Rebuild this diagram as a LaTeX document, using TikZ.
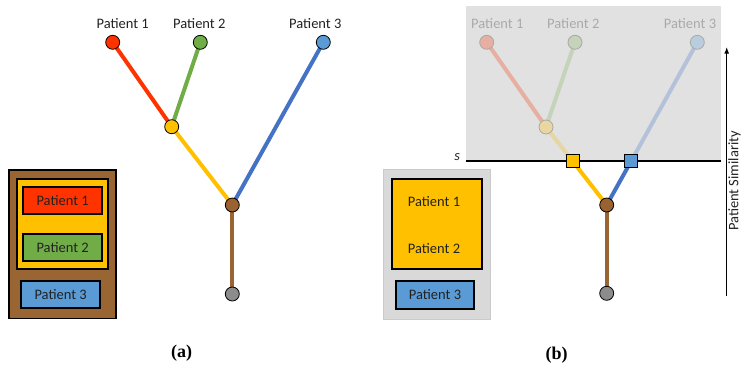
\documentclass[tikz,border=0pt]{standalone}
\usepackage{fontspec}
\setmainfont{Carlito}
\newfontfamily\capfont{Liberation Serif}
\usetikzlibrary{calc,arrows.meta}
\pgfdeclarelayer{bg}\pgfdeclarelayer{lines}
\pgfsetlayers{bg,lines,main}
\definecolor{cred}{HTML}{FF3300}
\definecolor{cgreen}{HTML}{70AD47}
\definecolor{cbluen}{HTML}{5B9BD5}
\definecolor{cbluel}{HTML}{4472C4}
\definecolor{cyel}{HTML}{FFC000}
\definecolor{cbrown}{HTML}{996633}
\definecolor{cbrownn}{HTML}{9A6230}
\definecolor{cgrayn}{HTML}{8C8C8C}
\definecolor{fred}{HTML}{E6AFA2}
\definecolor{fgreen}{HTML}{C4D3BA}
\definecolor{fbluel}{HTML}{B4C2D9}
\definecolor{fbluen}{HTML}{B9CDDF}
\definecolor{fyel}{HTML}{E6D6A4}
\definecolor{fyeln}{HTML}{E8D7A0}
\definecolor{fborder}{HTML}{A8A8A8}
\definecolor{ftext}{HTML}{AAAAAA}
\definecolor{txt}{HTML}{222222}
\definecolor{bgtop}{HTML}{E1E1E1}
\definecolor{bgbox}{HTML}{D9D9D9}
\definecolor{bgborder}{HTML}{CACACA}
\begin{document}
\begin{tikzpicture}[x=1pt,y=-1pt,
  dot/.style={circle, draw=black, line width=0.8pt, minimum size=14pt, inner sep=0pt},
  fdot/.style={dot, draw=fborder},
  branch/.style={line width=4pt},
  lbl/.style={font=\fontsize{14.5}{16}\selectfont, text=txt, inner sep=0pt},
  flbl/.style={lbl, text=ftext},
  sqn/.style={rectangle, draw=black, line width=0.8pt, minimum size=13pt, inner sep=0pt},
  pbox/.style={draw=black, line width=1.8pt, inner sep=0pt, font=\fontsize{14.5}{16}\selectfont, text=txt},
  capt/.style={font=\capfont\bfseries\fontsize{18}{20}\selectfont, inner sep=0pt}]
\useasboundingbox (0,0) rectangle (741,364);

% ---------------- (a) ----------------
\node[dot, fill=cred]   (a1) at (112.7,42.3) {};
\node[dot, fill=cgreen] (a2) at (200.3,42.3) {};
\node[dot, fill=cbluen] (a3) at (323.3,42.3) {};
\node[dot, fill=cyel]   (ay) at (171.7,126.7) {};
\node[dot, fill=cbrownn](ab) at (232.3,205) {};
\node[dot, fill=cgrayn] (ag) at (232.3,294) {};
\node[lbl] (la1) at (122.7,23.3) {Patient 1};
\node[lbl] (la2) at (199.3,23.3) {Patient 2};
\node[lbl] (la3) at (315.3,23.3) {Patient 3};
\begin{pgfonlayer}{lines}
\draw[branch, cred]   (a1.center) -- (ay.center);
\draw[branch, cgreen] (a2.center) -- (ay.center);
\draw[branch, cyel]   (ay.center) -- (ab.center);
\draw[branch, cbluel] (a3.center) -- (ab.center);
\draw[branch, cbrown] (ab.center) -- (ag.center);
\end{pgfonlayer}

\node[draw=black, line width=1.5pt, fill=cbrown, minimum width=107pt, minimum height=148.3pt, inner sep=0pt] (ao) at (62.5,244.2) {};
\node[draw=black, line width=1.8pt, fill=cyel, minimum width=91pt, minimum height=89.7pt, inner sep=0pt] (ayb) at (62.8,223.85) {};
\node[pbox, fill=cred, minimum width=78.7pt, minimum height=27.3pt] (ar) at (62.65,200.65) {Patient 1};
\node[pbox, fill=cgreen, minimum width=78.7pt, minimum height=27.6pt] (agb) at (62.65,247.5) {Patient 2};
\node[pbox, fill=cbluen, minimum width=78.7pt, minimum height=27.3pt] (abb) at (60.65,294.65) {Patient 3};

\node[capt] (capa) at (181.7,353.3) {(a)};

% ---------------- (b) ----------------
\begin{pgfonlayer}{bg}
\fill[bgtop] (466,6) rectangle (720.7,161.3);
\end{pgfonlayer}
\coordinate (sL) at (466,161.3);
\coordinate (sR) at (720.7,161.3);
\node[font=\itshape\fontsize{14.5}{16}\selectfont, text=txt, inner sep=0pt] (slab) at (457.3,156.7) {s};

\node[fdot, fill=fred]   (b1) at (486.7,42.3) {};
\node[fdot, fill=fgreen] (b2) at (575,42.3) {};
\node[fdot, fill=fbluen] (b3) at (697.3,42.3) {};
\node[fdot, fill=fyeln]  (by) at (546,127) {};
\node[dot, fill=cbrownn] (bb) at (606.7,205) {};
\node[dot, fill=cgrayn]  (bg) at (606.7,293.3) {};
\node[flbl] (lb1) at (497.3,23.3) {Patient 1};
\node[flbl] (lb2) at (573.3,23.3) {Patient 2};
\node[flbl] (lb3) at (690,23.3) {Patient 3};
\path (intersection of by--bb and sL--sR) coordinate (ys);
\path (intersection of b3--bb and sL--sR) coordinate (bs);
\node[sqn, fill=cyel]   (ysq) at (ys) {};
\node[sqn, fill=cbluen] (bsq) at (bs) {};
\begin{pgfonlayer}{lines}
\draw[branch, fred]   (b1.center) -- (by.center);
\draw[branch, fgreen] (b2.center) -- (by.center);
\draw[branch, fyel]   (by.center) -- (ysq.center);
\draw[branch, fbluel] (b3.center) -- (bsq.center);
\draw[branch, cyel]   (ysq.center) -- (bb.center);
\draw[branch, cbluel] (bsq.center) -- (bb.center);
\draw[branch, cbrown] (bb.center) -- (bg.center);
\draw[line width=1.8pt, black] (sL) -- (sR);
\end{pgfonlayer}

\node[draw=bgborder, line width=0.8pt, fill=bgbox, minimum width=107.4pt, minimum height=150pt, inner sep=0pt] (bgb) at (437,244.3) {};
\node[draw=black, line width=1.8pt, fill=cyel, minimum width=90.3pt, minimum height=90pt, inner sep=0pt] (byb) at (437.15,224) {};
\node[lbl] (byt1) at (434,201.7) {Patient 1};
\node[lbl] (byt2) at (434,248.3) {Patient 2};
\node[pbox, fill=cbluen, minimum width=78.6pt, minimum height=28pt] (bbb) at (435,294.7) {Patient 3};

\coordinate (arB) at (726.7,296);
\coordinate (arT) at (726.7,46.7);
\draw[line width=1.5pt, -{Latex[length=7pt,width=5pt]}] (arB) -- (arT);
\node[lbl, rotate=90] (psim) at (734.5,181) {Patient Similarity};

\node[capt] (capb) at (556.7,355) {(b)};
\end{tikzpicture}
\end{document}
